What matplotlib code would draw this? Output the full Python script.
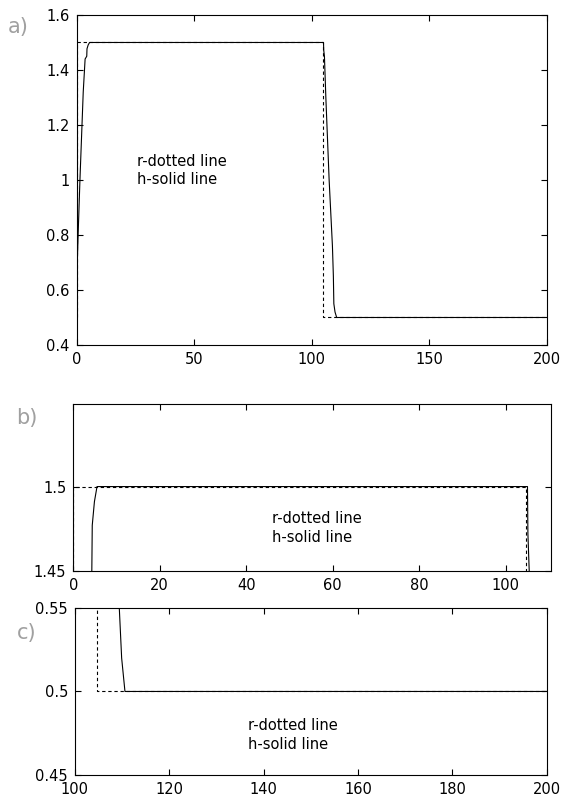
import numpy as np
import matplotlib
matplotlib.use("Agg")
import matplotlib.pyplot as plt

plt.rcParams['font.family'] = ['DejaVu Sans']

# reference signal r (dotted) and response h (solid)
r_t = [0, 0, 104.7, 104.7, 200]
r_v = [0.5, 1.5, 1.5, 0.5, 0.5]

h_t = [0, 0.05, 0.7, 1.4, 2.1, 2.8, 3.6, 4.3, 4.4, 4.9, 5.5,
       105.0, 105.1, 105.4, 106.0, 106.7, 107.4, 108.1, 108.8, 109.2, 109.4, 109.9, 110.6, 200]
h_v = [0.5, 0.64, 0.82, 1.0, 1.16, 1.32, 1.44, 1.45, 1.477, 1.491, 1.5,
       1.5, 1.472, 1.45, 1.3, 1.15, 1.0, 0.88, 0.76, 0.65, 0.55, 0.52, 0.5, 0.5]

label_txt = "r-dotted line\nh-solid line"

panels = [
    # name, rect, xlim, ylim, xticks, yticks, yticklabels, text pos
    ("a)", [0.134, 0.5693, 0.822, 0.412], (0, 200), (0.4, 1.6),
     [0, 50, 100, 150, 200], [0.4, 0.6, 0.8, 1.0, 1.2, 1.4, 1.6],
     ["0.4", "0.6", "0.8", "1", "1.2", "1.4", "1.6"], (25.5, 1.035)),
    ("b)", [0.128, 0.2875, 0.835, 0.208], (0, 110.4), (1.45, 1.549),
     [0, 20, 40, 60, 80, 100], [1.45, 1.5],
     ["1.45", "1.5"], (45.9, 1.4755)),
    ("c)", [0.131, 0.0325, 0.825, 0.2085], (100, 200), (0.45, 0.55),
     [100, 120, 140, 160, 180, 200], [0.45, 0.5, 0.55],
     ["0.45", "0.5", "0.55"], (136.6, 0.474)),
]
label_pos = [(0.014, 0.966), (0.029, 0.478), (0.029, 0.21)]

fig = plt.figure(figsize=(5.72, 8.01), dpi=100)

for (name, rect, xl, yl, xt, yt, ytl, tp), lp in zip(panels, label_pos):
    ax = fig.add_axes(rect)
    ax.plot(r_t, r_v, color='black', linewidth=0.8, linestyle=(0, (3, 2.5)))
    ax.plot(h_t, h_v, color='black', linewidth=0.8)
    ax.set_xlim(xl)
    ax.set_ylim(yl)
    ax.set_xticks(xt)
    ax.set_xticklabels([str(v) for v in xt])
    ax.set_yticks(yt)
    ax.set_yticklabels(ytl)
    ax.tick_params(direction='in', top=True, right=True, length=4,
                   width=0.8, labelsize=10.5, pad=5)
    for s in ax.spines.values():
        s.set_linewidth(0.8)
    ax.text(tp[0], tp[1], label_txt, fontsize=10.5, ha='left', va='center',
            linespacing=1.3)
    fig.text(lp[0], lp[1], name, fontsize=15, color='#a0a0a0',
             ha='left', va='center')

fig.savefig("out.png", dpi=100)
